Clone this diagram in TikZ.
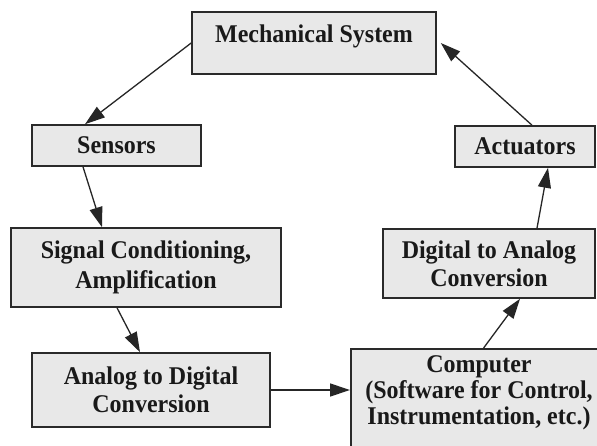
\documentclass[tikz,border=0pt]{standalone}
\usepackage{fontspec}
\setmainfont{Liberation Serif}
\newfontfamily\boxfont{Liberation Serif}[FakeStretch=0.94]
\usetikzlibrary{arrows.meta}
\definecolor{boxfill}{HTML}{E8E8E8}
\definecolor{boxline}{HTML}{2A2A2A}
\begin{document}
\begin{tikzpicture}[x=1pt,y=-1pt,
  box/.style={draw=boxline, line width=1.6pt, fill=boxfill, inner sep=0pt, align=center,
    font=\boxfont\fontsize{25.5}{28}\selectfont\bfseries, text=black!90},
  conn/.style={draw=black!85, line width=1.3pt, -{Triangle[length=20pt,width=13pt]}}]
\useasboundingbox (0,0) rectangle (597,446);
\clip (0,0) rectangle (597,446);
\fill[white] (0,0) rectangle (597,446);
\node[box, minimum width=244, minimum height=62, text depth=19pt] (mech) at (314,43) {Mechanical System};
\node[box, minimum width=169, minimum height=41] (sens) at (116.5,145.5) {Sensors};
\node[box, minimum width=140, minimum height=41] (act) at (525,146.5) {Actuators};
\node[box, minimum width=270, minimum height=79, font=\boxfont\fontsize{25.5}{30}\selectfont\bfseries] (sig) at (146,267.5) {Signal Conditioning,\\Amplification};
\node[box, minimum width=238, minimum height=74] (adc) at (151,390) {\raisebox{3pt}{\parbox{238pt}{\centering Analog to Digital\\Conversion}}};
\node[box, minimum width=212, minimum height=69] (dac) at (489,263.5) {Digital to Analog\\Conversion};
\node[box, minimum width=260, minimum height=120, anchor=north west] (comp) at (350,348) {};
\node[font=\boxfont\fontsize{25.5}{26}\selectfont\bfseries, text=black!90, align=center, inner sep=0pt] (compt) at (479,393) {Computer\\(Software for Control,\\Instrumentation, etc.)};
\draw[conn] (mech.west) -- ([xshift=-31.5pt]sens.north);
\draw[conn] ([xshift=-33.5pt]sens.south) -- ([xshift=-44pt]sig.north);
\draw[conn] ([xshift=-29pt]sig.south) -- ([xshift=-11pt]adc.north);
\draw[conn] (adc.east) -- (adc.east -| comp.west);
\draw[conn] ([xshift=-128pt]comp.north east) -- ([xshift=31pt]dac.south);
\draw[conn] ([xshift=48pt]dac.north) -- ([xshift=23pt]act.south);
\draw[conn] ([xshift=7pt]act.north) -- ([xshift=4pt]mech.east);
\end{tikzpicture}
\end{document}
